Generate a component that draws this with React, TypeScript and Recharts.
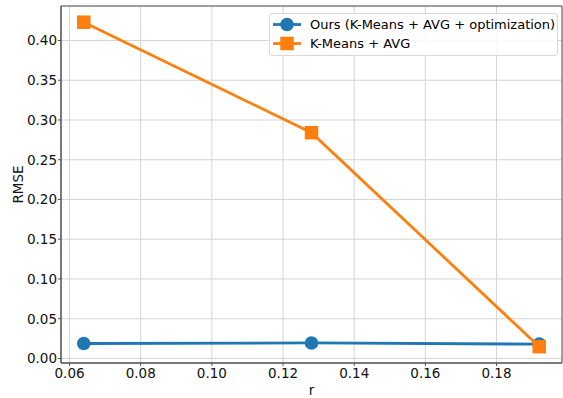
import React from 'react';
import { LineChart, Line, XAxis, YAxis, CartesianGrid, ReferenceArea } from 'recharts';

const rValues = [0.064, 0.128, 0.192];
const oursRmse = [0.0188, 0.0195, 0.0180];
const kmeansRmse = [0.423, 0.284, 0.0148];
const xTicks = [0.06, 0.08, 0.1, 0.12, 0.14, 0.16, 0.18];
const yTicks = [0, 0.05, 0.1, 0.15, 0.2, 0.25, 0.3, 0.35, 0.4];
const seriesNames = ['Ours (K-Means + AVG + optimization)', 'K-Means + AVG'];

const data = rValues.map((r, i) => ({ r, ours: oursRmse[i], kmeans: kmeansRmse[i] }));

const X_DOMAIN: [number, number] = [0.0576, 0.1984];
const Y_DOMAIN: [number, number] = [-0.0057, 0.4434];
const FONT = 'DejaVu Sans';
const FS = 13.5;
const LFS = 13;
const BLUE = '#1f77b4';
const ORANGE = '#ff7f0e';

const SquareDot = (props: any) => {
  const { cx, cy } = props;
  if (cx == null || cy == null) return null;
  const s = 13.5;
  return <rect x={cx - s / 2} y={cy - s / 2} width={s} height={s} fill={ORANGE} />;
};

const CircleDot = (props: any) => {
  const { cx, cy } = props;
  if (cx == null || cy == null) return null;
  return <circle cx={cx} cy={cy} r={6.8} fill={BLUE} />;
};

const LegendBox = () => (
  <div
    style={{
      position: 'absolute',
      left: 269,
      top: 13,
      width: 289,
      height: 43,
      border: '1px solid #d8d8d8',
      borderRadius: 3,
      background: 'rgba(255,255,255,0.85)',
      fontFamily: FONT,
      fontSize: LFS,
      color: '#000',
      boxSizing: 'border-box',
    }}
  >
    {[0, 1].map((i) => (
      <div key={i} style={{ position: 'absolute', left: 0, top: i === 0 ? 1 : 20, height: 19, width: '100%' }}>
        <svg width={40} height={19} style={{ position: 'absolute', left: 0, top: 0 }}>
          <line x1={3} x2={31} y1={9.5} y2={9.5} stroke={i === 0 ? BLUE : ORANGE} strokeWidth={2.8} />
          {i === 0 ? (
            <circle cx={17} cy={9.5} r={6.8} fill={BLUE} />
          ) : (
            <rect x={17 - 6.75} y={9.5 - 6.75} width={13.5} height={13.5} fill={ORANGE} />
          )}
        </svg>
        <span style={{ position: 'absolute', left: 40, top: 0, lineHeight: '19px', whiteSpace: 'nowrap' }}>
          {seriesNames[i]}
        </span>
      </div>
    ))}
  </div>
);

export default function App() {
  return (
    <div style={{ position: 'absolute', left: 0, top: 0, width: 563, height: 398, background: '#fff' }}>
      <LineChart width={563} height={398} data={data} margin={{ top: 6, right: 1, bottom: 0, left: 0 }}>
        <CartesianGrid stroke="#d4d4d4" strokeWidth={1} horizontal vertical />
        <XAxis
          dataKey="r"
          type="number"
          domain={X_DOMAIN}
          allowDataOverflow
          ticks={xTicks}
          tickFormatter={(v: number) => v.toFixed(2)}
          tick={{ fontFamily: FONT, fontSize: FS, fill: '#111' }}
          tickSize={3}
          tickMargin={2}
          height={35}
          stroke="#555"
          tickLine={{ stroke: '#555' }}
          label={(p: any) => {
            const vb = p.viewBox;
            return (
              <text x={vb.x + vb.width / 2} y={390} textAnchor="middle" dominantBaseline="central" fontFamily={FONT} fontSize={FS} fill="#111">
                r
              </text>
            );
          }}
        />
        <YAxis
          type="number"
          domain={Y_DOMAIN}
          allowDataOverflow
          ticks={yTicks}
          tickFormatter={(v: number) => v.toFixed(2)}
          tick={{ fontFamily: FONT, fontSize: FS, fill: '#111' }}
          tickSize={3}
          tickMargin={1}
          width={61}
          stroke="#555"
          tickLine={{ stroke: '#555' }}
          label={(p: any) => {
            const vb = p.viewBox;
            const cy = vb.y + vb.height / 2;
            return (
              <text x={18} y={cy} transform={`rotate(-90, 18, ${cy})`} textAnchor="middle" dominantBaseline="central" fontFamily={FONT} fontSize={FS} fill="#111">
                RMSE
              </text>
            );
          }}
        />
        <ReferenceArea x1={X_DOMAIN[0]} x2={X_DOMAIN[1]} y1={Y_DOMAIN[0]} y2={Y_DOMAIN[1]} fill="none" stroke="#555" strokeWidth={1} ifOverflow="visible" />
        <Line dataKey="ours" stroke={BLUE} strokeWidth={2.8} dot={<CircleDot />} activeDot={false} isAnimationActive={false} />
        <Line dataKey="kmeans" stroke={ORANGE} strokeWidth={2.8} dot={<SquareDot />} activeDot={false} isAnimationActive={false} />
      </LineChart>
      <LegendBox />
    </div>
  );
}
